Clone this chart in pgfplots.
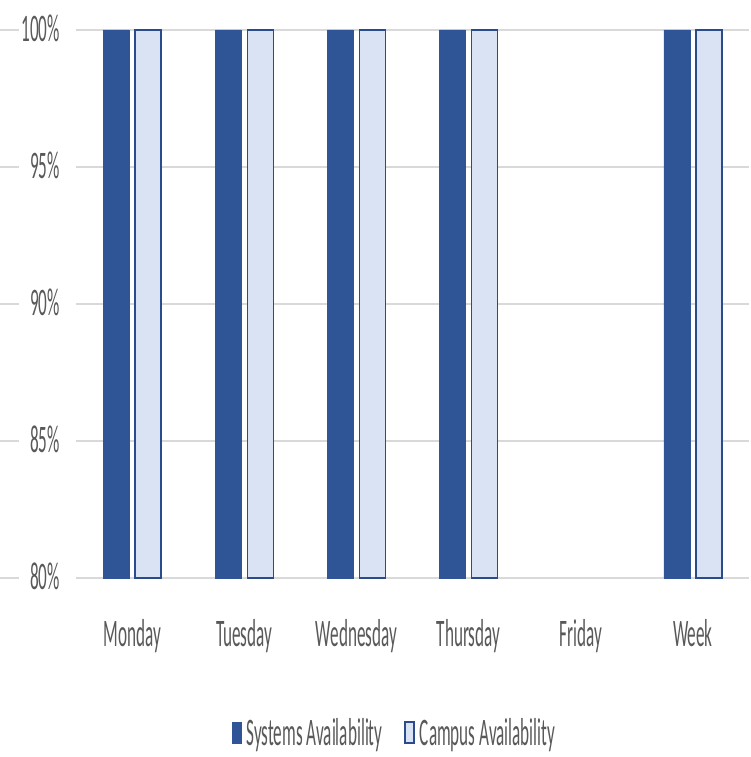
\documentclass[border=0pt]{standalone}
\usepackage{fontspec}
\setmainfont[FakeStretch=0.44]{Carlito}
\usepackage{pgfplots}
\pgfplotsset{compat=1.18}
\definecolor{sysc}{HTML}{2F5597}
\definecolor{camc}{HTML}{DAE3F3}
\definecolor{camb}{HTML}{2A4C8C}
\definecolor{gridc}{HTML}{D9D9D9}
\definecolor{txtc}{HTML}{595959}
\pgfplotsset{tallbar/.style={legend image code/.code={\draw[##1] (0pt,-10pt) rectangle (9pt,11pt);}}}
\begin{document}
\begin{tikzpicture}[x=1pt,y=1pt]
\useasboundingbox (0,0) rectangle (751,757);
\begin{axis}[
  at={(76pt,179pt)}, anchor=south west,
  scale only axis, width=673pt, height=548pt,
  xmin=-0.5, xmax=5.5, ymin=80, ymax=100,
  clip=false,
  axis line style={draw=none},
  major tick length=0pt,
  ymajorgrids, grid style={gridc, line width=1.6pt},
  ytick={80,85,90,95,100},
  yticklabels={80\%,85\%,90\%,95\%,100\%},
  xtick={0,1,2,3,4,5},
  xticklabels={Monday,Tuesday,Wednesday,Thursday,Friday,Week},
  tick label style={font=\fontsize{39}{40}\selectfont, text=txtc, inner sep=0pt},
  yticklabel style={anchor=base east, xshift=-16pt, yshift=-12pt},
  xticklabel style={anchor=base, yshift=-69pt},
  ybar, bar width=26pt,
  legend columns=2,
  legend style={draw=none, fill=none, inner sep=0pt, outer sep=0pt,
    at={(0.2318,-0.2828)}, anchor=west,
    font=\fontsize{39}{40}\selectfont, text=txtc,
    nodes={inner sep=0pt},
    column sep=5pt,
    /tikz/every even column/.append style={column sep=22pt}},
]
\addplot[bar shift=-16pt, fill=sysc, draw=sysc, line width=0.5pt, tallbar]
  coordinates {(0,100) (1,100) (2,100) (3,100) (5,100)};
\addlegendentry{Systems Availability}
\addplot[bar shift=16pt, fill=camc, draw=camb, line width=1.4pt, tallbar]
  coordinates {(0,100) (1,100) (2,100) (3,100) (5,100)};
\addlegendentry{Campus Availability}
\draw[gridc, line width=1.6pt] ([xshift=-76pt]axis cs:-0.5,80) -- ([xshift=-57pt]axis cs:-0.5,80);
\draw[gridc, line width=1.6pt] ([xshift=-76pt]axis cs:-0.5,85) -- ([xshift=-57pt]axis cs:-0.5,85);
\draw[gridc, line width=1.6pt] ([xshift=-76pt]axis cs:-0.5,90) -- ([xshift=-57pt]axis cs:-0.5,90);
\draw[gridc, line width=1.6pt] ([xshift=-76pt]axis cs:-0.5,95) -- ([xshift=-57pt]axis cs:-0.5,95);
\draw[gridc, line width=1.6pt] ([xshift=-76pt]axis cs:-0.5,100) -- ([xshift=-57pt]axis cs:-0.5,100);
\end{axis}
\end{tikzpicture}
\end{document}
